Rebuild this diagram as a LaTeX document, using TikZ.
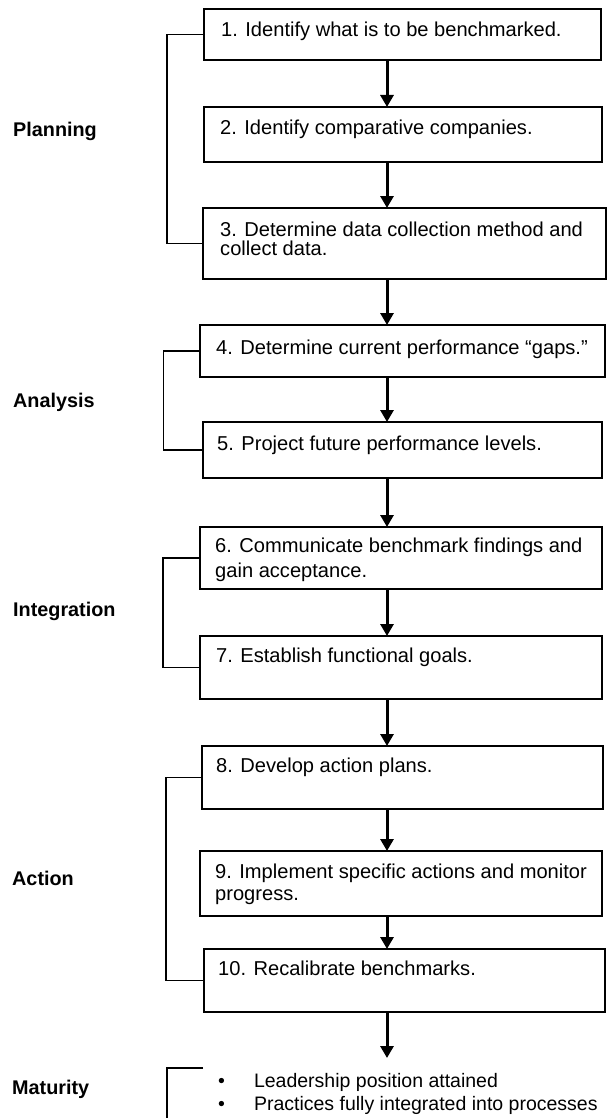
\documentclass[tikz,border=0pt]{standalone}
\usepackage{fontspec}
\setmainfont{Liberation Sans}
\usetikzlibrary{arrows.meta}
\begin{document}
\begin{tikzpicture}[x=1pt,y=-1pt,
  box/.style={draw, line width=1.6pt, inner sep=0pt, outer sep=0pt, anchor=north west},
  txt/.style={anchor=base west, inner sep=0pt, align=left, font=\fontsize{20.1}{22}\selectfont},
  lbl/.style={anchor=base west, inner sep=0pt, font=\bfseries\fontsize{19.8}{22}\selectfont},
  flow/.style={line width=3pt, -{Triangle[width=13pt,length=12pt]}},
  brk/.style={line width=1.6pt}]
\useasboundingbox[fill=white] (0,0) rectangle (607,1118);
\coordinate (ax) at (387,0);
% boxes
\node[box, minimum width=397pt, minimum height=51pt] (b1) at (204,9) {};
\node[box, minimum width=398pt, minimum height=55pt] (b2) at (204,107) {};
\node[box, minimum width=403pt, minimum height=71pt] (b3) at (203,208) {};
\node[box, minimum width=405pt, minimum height=52pt] (b4) at (200,325) {};
\node[box, minimum width=399pt, minimum height=56pt] (b5) at (203,422) {};
\node[box, minimum width=402pt, minimum height=62pt] (b6) at (200,527) {};
\node[box, minimum width=402pt, minimum height=63pt] (b7) at (200,636) {};
\node[box, minimum width=401pt, minimum height=63pt] (b8) at (202,746) {};
\node[box, minimum width=402pt, minimum height=65pt] (b9) at (200,851) {};
\node[box, minimum width=401pt, minimum height=63pt] (b10) at (204,949) {};
% texts (multi-line nodes are placed by the baseline of their last line)
\node[txt] (t1) at (221,37) {1. Identify what is to be benchmarked.};
\node[txt] (t2) at (220,135) {2. Identify comparative companies.};
\node[txt, font=\fontsize{20.1}{19}\selectfont] (t3) at (220,255) {3. Determine data collection method and\\collect data.};
\node[txt] (t4) at (216,354) {4. Determine current performance “gaps.”};
\node[txt] (t5) at (217,450) {5. Project future performance levels.};
\node[txt, font=\fontsize{20.1}{25}\selectfont] (t6) at (215,577) {6. Communicate benchmark findings and\\gain acceptance.};
\node[txt] (t7) at (216,662) {7. Establish functional goals.};
\node[txt] (t8) at (216,772) {8. Develop action plans.};
\node[txt, font=\fontsize{20.1}{22}\selectfont] (t9) at (215,900) {9. Implement specific actions and monitor\\progress.};
\node[txt] (t10) at (218,975) {10. Recalibrate benchmarks.};
% arrows
\draw[flow] (b1.south -| ax) -- (b2.north -| ax);
\draw[flow] (b2.south -| ax) -- (b3.north -| ax);
\draw[flow] (b3.south -| ax) -- (b4.north -| ax);
\draw[flow] (b4.south -| ax) -- (b5.north -| ax);
\draw[flow] (b5.south -| ax) -- (b6.north -| ax);
\draw[flow] (b6.south -| ax) -- (b7.north -| ax);
\draw[flow] (b7.south -| ax) -- (b8.north -| ax);
\draw[flow] (b8.south -| ax) -- (b9.north -| ax);
\draw[flow] (b9.south -| ax) -- (b10.north -| ax);
\coordinate (fin) at (387,1058);
\draw[flow] (b10.south -| ax) -- (fin);
% brackets
\coordinate (xp) at (167,0);
\coordinate (xa) at (163.5,0);
\coordinate (xi) at (163,0);
\coordinate (xc) at (166,0);
\draw[brk] (b1.west) -- (b1.west -| xp) |- (b3.west);
\draw[brk] (b4.west) -- (b4.west -| xa) |- (b5.west);
\draw[brk] (b6.west) -- (b6.west -| xi) |- (b7.west);
\draw[brk] (b8.west) -- (b8.west -| xc) |- (b10.west);
\coordinate (m1) at (203,1068);
\coordinate (m2) at (167,1120);
\draw[brk] (m1) -| (m2);
% stage labels
\node[lbl] (lp) at (13,137) {Planning};
\node[lbl] (la) at (13,407) {Analysis};
\node[lbl] (li) at (13,616) {Integration};
\node[lbl] (lc) at (12,885) {Action};
\node[lbl] (lm) at (12,1094) {Maturity};
% maturity list
\node[anchor=base west, inner sep=0pt, font=\fontsize{19.5}{23}\selectfont] (mat) at (218,1087)
  {\begin{tabular}[t]{@{}l@{\hspace{29pt}}l@{}}• & Leadership position attained\\ • & Practices fully integrated into processes\end{tabular}};
\end{tikzpicture}
\end{document}
